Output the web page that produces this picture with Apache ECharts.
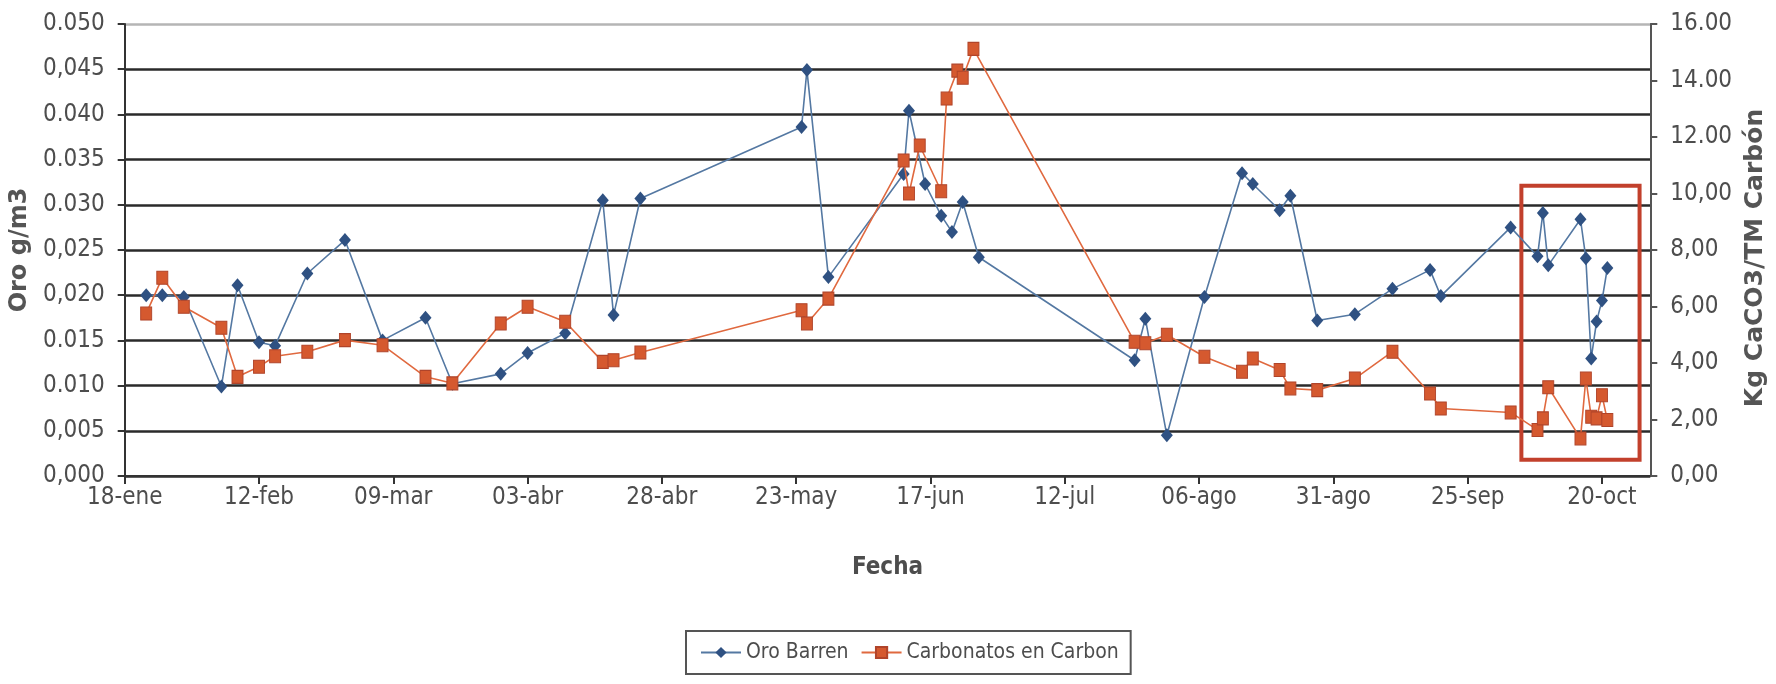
<!DOCTYPE html>
<html>
<head>
<meta charset="utf-8">
<script src="https://cdn.jsdelivr.net/npm/echarts@6/dist/echarts.min.js"></script>
<style>
  html, body { margin: 0; padding: 0; background: #ffffff; }
  #chart { width: 1776px; height: 684px; }
</style>
</head>
<body>
<div id="chart"></div>
<script>
// Etiquetas de los ejes
const etiquetasFecha = ['18-ene', '12-feb', '09-mar', '03-abr', '28-abr', '23-may',
  '17-jun', '12-jul', '06-ago', '31-ago', '25-sep', '20-oct'];
const etiquetasOro = ['0,000', '0,005', '0.010', '0.015', '0,020', '0,025',
  '0.030', '0.035', '0.040', '0,045', '0.050'];
const etiquetasCarbon = ['0,00', '2,00', '4,00', '6,00', '8,00', '10,00', '12.00', '14.00', '16.00'];

// Oro Barren (g/m3)
const fechasOro = ['22-ene', '25-ene', '29-ene', '05-feb', '08-feb', '12-feb', '15-feb', '21-feb',
  '28-feb', '07-mar', '15-mar', '20-mar', '29-mar', '03-abr', '10-abr', '17-abr', '19-abr',
  '24-abr', '24-may', '25-may', '29-may', '12-jun', '13-jun', '16-jun', '19-jun', '21-jun',
  '23-jun', '26-jun', '25-jul', '27-jul', '31-jul', '07-ago', '14-ago', '16-ago', '21-ago',
  '23-ago', '28-ago', '04-sep', '11-sep', '18-sep', '20-sep', '03-oct', '08-oct', '09-oct',
  '10-oct', '16-oct', '17-oct', '18-oct', '19-oct', '20-oct', '21-oct'];
const oroBarren = [0.0200, 0.0200, 0.0198, 0.0099, 0.0211, 0.0148, 0.0144, 0.0224,
  0.0261, 0.0150, 0.0175, 0.0102, 0.0113, 0.0136, 0.0158, 0.0305, 0.0178,
  0.0307, 0.0386, 0.0449, 0.0220, 0.0334, 0.0404, 0.0323, 0.0288, 0.0270,
  0.0303, 0.0242, 0.0128, 0.0174, 0.0045, 0.0198, 0.0335, 0.0323, 0.0294,
  0.0310, 0.0172, 0.0179, 0.0207, 0.0228, 0.0199, 0.0275, 0.0243, 0.0291,
  0.0233, 0.0284, 0.0241, 0.0130, 0.0171, 0.0194, 0.0230];

// Carbonatos en Carbon (Kg CaCO3/TM)
const fechasCarbon = ['22-ene', '25-ene', '29-ene', '05-feb', '08-feb', '12-feb', '15-feb', '21-feb',
  '28-feb', '07-mar', '15-mar', '20-mar', '29-mar', '03-abr', '10-abr', '17-abr', '19-abr',
  '24-abr', '24-may', '25-may', '29-may', '12-jun', '13-jun', '15-jun', '19-jun', '20-jun',
  '22-jun', '23-jun', '25-jun', '25-jul', '27-jul', '31-jul', '07-ago', '14-ago', '16-ago',
  '21-ago', '23-ago', '28-ago', '04-sep', '11-sep', '18-sep', '20-sep', '03-oct', '08-oct',
  '09-oct', '10-oct', '16-oct', '17-oct', '18-oct', '19-oct', '20-oct', '21-oct'];
const carbonatos = [5.75, 7.02, 5.99, 5.25, 3.51, 3.87, 4.24, 4.40,
  4.81, 4.63, 3.51, 3.28, 5.40, 5.99, 5.46, 4.04, 4.10,
  4.37, 5.87, 5.40, 6.28, 11.17, 10.00, 11.70, 10.08, 13.36,
  14.35, 14.10, 15.12, 4.75, 4.70, 5.00, 4.22, 3.69, 4.16,
  3.75, 3.10, 3.04, 3.45, 4.40, 2.92, 2.39, 2.25, 1.63,
  2.04, 3.14, 1.33, 3.45, 2.10, 2.04, 2.86, 1.98];

// Recuadro de octubre (fechas y rango en g/m3)
const recuadroFechas = ['05-oct', '27-oct'];
const recuadroOro = [0.0018, 0.0321];

const MESES = ['ene', 'feb', 'mar', 'abr', 'may', 'jun', 'jul', 'ago', 'sep', 'oct', 'nov', 'dic'];
const ORIGEN = Date.UTC(2001, 0, 18);
function dias(txt) {
  const [d, m] = txt.split('-');
  return Math.round((Date.UTC(2001, MESES.indexOf(m), +d) - ORIGEN) / 86400000);
}

const NARROW = "'Liberation Sans Narrow','Arial Narrow','DejaVu Sans Condensed','Roboto Condensed','Liberation Sans',sans-serif";
const WIDE = "'DejaVu Sans',sans-serif";
const GRIS = '#4d4d4d';

const chart = echarts.init(document.getElementById('chart'), null, { renderer: 'canvas' });

chart.setOption({
  animation: false,
  backgroundColor: '#ffffff',
  grid: { left: 115, right: 111, top: 24, bottom: 208, containLabel: false },
  legend: {
    left: 686, top: 631,
    padding: [11, 12, 11, 14],
    borderColor: '#555555', borderWidth: 2,
    itemWidth: 40, itemHeight: 14, itemGap: 12,
    textStyle: { fontFamily: NARROW, fontSize: 21, color: GRIS },
    data: ['Oro Barren', 'Carbonatos en Carbon']
  },
  xAxis: {
    type: 'value', min: 0, max: 284, interval: 25,
    name: 'Fecha', nameLocation: 'middle', nameGap: 80,
    nameTextStyle: { fontFamily: NARROW, fontSize: 24, fontWeight: 'bold', color: GRIS },
    axisLine: { show: true, lineStyle: { color: '#333333', width: 2 } },
    axisTick: { show: true, length: 8, lineStyle: { color: '#333333', width: 2 } },
    axisLabel: {
      margin: 10, fontFamily: NARROW, fontSize: 24, color: GRIS, showMaxLabel: false,
      formatter: v => (v % 25 === 0 ? (etiquetasFecha[v / 25] || '') : '')
    },
    splitLine: { show: false }
  },
  yAxis: [{
    type: 'value', min: 0, max: 0.05, interval: 0.005, position: 'left',
    name: 'Oro g/m3', nameLocation: 'middle', nameGap: 73, nameRotate: 90,
    nameTextStyle: { fontFamily: WIDE, fontSize: 24, fontWeight: 'bold', color: '#555555' },
    axisLine: { show: true, lineStyle: { color: '#333333', width: 2 } },
    axisTick: { show: true, length: 7, lineStyle: { color: '#333333', width: 2 } },
    axisLabel: {
      margin: 20, fontFamily: NARROW, fontSize: 24, color: GRIS,
      formatter: v => etiquetasOro[Math.round(v / 0.005)]
    },
    splitLine: {
      show: true,
      lineStyle: {
        width: 2.5,
        color: ['#2a2a2a', '#2a2a2a', '#2a2a2a', '#2a2a2a', '#2a2a2a', '#2a2a2a',
          '#2a2a2a', '#2a2a2a', '#2a2a2a', '#2a2a2a', '#b5b5b5']
      }
    }
  }, {
    type: 'value', min: 0, max: 16, interval: 2, position: 'right',
    name: 'Kg CaCO3/TM Carbón', nameLocation: 'middle', nameGap: 74, nameRotate: 90,
    nameTextStyle: { fontFamily: WIDE, fontSize: 25, fontWeight: 'bold', color: '#555555', padding: [0, 16, 0, 0] },
    axisLine: { show: true, lineStyle: { color: '#555555', width: 2 } },
    axisTick: { show: true, length: 7, lineStyle: { color: '#555555', width: 2 } },
    axisLabel: {
      margin: 20, fontFamily: NARROW, fontSize: 24, color: GRIS,
      formatter: v => etiquetasCarbon[Math.round(v / 2)]
    },
    splitLine: { show: false }
  }],
  series: [{
    name: 'Oro Barren', type: 'line', yAxisIndex: 0, z: 3,
    data: fechasOro.map((f, i) => [dias(f), oroBarren[i]]),
    symbol: 'diamond', symbolSize: [12, 14],
    lineStyle: { color: '#5478a2', width: 1.6 },
    itemStyle: { color: '#2f5182', borderColor: '#2f5182', borderWidth: 0 },
    markArea: {
      silent: true,
      itemStyle: { color: 'rgba(0,0,0,0)', borderColor: '#c2402c', borderWidth: 4 },
      data: [[
        { xAxis: dias(recuadroFechas[0]), yAxis: recuadroOro[0] },
        { xAxis: dias(recuadroFechas[1]), yAxis: recuadroOro[1] }
      ]]
    }
  }, {
    name: 'Carbonatos en Carbon', type: 'line', yAxisIndex: 1, z: 4,
    data: fechasCarbon.map((f, i) => [dias(f), carbonatos[i]]),
    symbol: 'rect', symbolSize: [11, 13],
    lineStyle: { color: '#e0693f', width: 1.6 },
    itemStyle: { color: '#d5592f', borderColor: '#b0442a', borderWidth: 1 }
  }]
});
</script>
</body>
</html>
